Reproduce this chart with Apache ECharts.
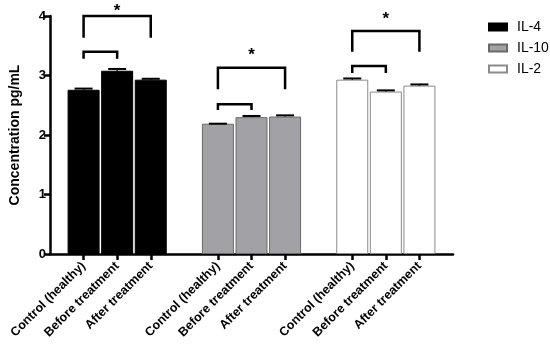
<!DOCTYPE html>
<html><head><meta charset="utf-8">
<script src="https://cdn.jsdelivr.net/npm/echarts@6/dist/echarts.min.js"></script>
<style>html,body{margin:0;padding:0;background:#fff}#c{width:550px;height:346px}</style>
</head><body><div id="c"></div>
<script>
// Category slots (blank slots separate the three cytokine groups)
const categories = ['', 'Control (healthy)', 'Before treatment', 'After treatment', '',
  'Control (healthy)', 'Before treatment', 'After treatment', '',
  'Control (healthy)', 'Before treatment', 'After treatment', ''];
const seriesNames = ['IL-4', 'IL-10', 'IL-2'];
const groupSlots = [[1, 2, 3], [5, 6, 7], [9, 10, 11]];
const il4 = [2.76, 3.08, 2.93];
const il4Err = [0.02, 0.03, 0.015];
const il10 = [2.19, 2.30, 2.31];
const il10Err = [0.0, 0.02, 0.02];
const il2 = [2.93, 2.73, 2.83];
const il2Err = [0.02, 0.02, 0.02];
const yTicks = [0, 1, 2, 3, 4];
// significance brackets: [fromSlot, toSlot, topValue, legEndValue]
const brackets = [
  [1, 3, 4.0, 3.635], [1, 2, 3.40, 3.28],
  [5, 7, 3.13, 2.77], [5, 6, 2.515, 2.42],
  [9, 11, 3.75, 3.40], [9, 10, 3.16, 3.04]
];
const stars = [[2, 4.08], [6, 3.34], [10, 3.95]];

const values = [il4, il10, il2];
const errs = [il4Err, il10Err, il2Err];
function slotData(vals, g) {
  const arr = categories.map(() => '-');
  groupSlots[g].forEach((s, i) => { arr[s] = vals[i]; });
  return arr;
}
const styles = [
  {color: '#000000', borderColor: '#000000', borderWidth: 1},
  {color: '#a2a2a6', borderColor: '#6a6a6a', borderWidth: 1},
  {color: '#ffffff', borderColor: '#8a8a8a', borderWidth: 1}
];
const errData = [];
values.forEach((vals, g) => vals.forEach((v, i) => errData.push([groupSlots[g][i], v, v + errs[g][i]])));

const font = 'Liberation Sans, Arial, sans-serif';
const chart = echarts.init(document.getElementById('c'));
const series = seriesNames.map((n, g) => ({
  name: n, type: 'bar', data: slotData(values[g], g), barWidth: 32, barGap: '-100%',
  itemStyle: styles[g], z: 2
}));
series.push({
  type: 'custom', z: 5, silent: true, data: errData,
  renderItem: function (params, api) {
    const x = api.value(0);
    const p0 = api.coord([x, api.value(1)]);
    const p1 = api.coord([x, api.value(2)]);
    return {type: 'group', children: [
      {type: 'line', shape: {x1: p0[0], y1: p0[1], x2: p1[0], y2: p1[1]}, style: {stroke: '#000', lineWidth: 1.5}},
      {type: 'line', shape: {x1: p1[0] - 9, y1: p1[1], x2: p1[0] + 9, y2: p1[1]}, style: {stroke: '#000', lineWidth: 2}}
    ]};
  }
});
series.push({
  type: 'custom', z: 5, silent: true, data: brackets,
  renderItem: function (params, api) {
    const a = api.coord([api.value(0), api.value(2)]);
    const b = api.coord([api.value(1), api.value(2)]);
    const l = api.coord([api.value(0), api.value(3)]);
    return {type: 'polyline', shape: {points: [[a[0], l[1]], [a[0], a[1]], [b[0], b[1]], [b[0], l[1]]]},
      style: {stroke: '#000', lineWidth: 2.5, fill: null}};
  }
});
series.push({
  type: 'custom', z: 5, silent: true, data: stars,
  renderItem: function (params, api) {
    const p = api.coord([api.value(0), api.value(1)]);
    return {type: 'text', x: p[0], y: p[1], style: {text: '*', fontSize: 17, fontWeight: 'bold', fontFamily: font, fill: '#000', align: 'center', verticalAlign: 'middle'}};
  }
});

chart.setOption({
  animation: false,
  grid: {left: 43, right: 97, top: 16, bottom: 92, containLabel: false},
  legend: {
    data: seriesNames.map(n => ({name: n, icon: 'rect'})), orient: 'vertical', left: 488, top: 20,
    padding: 0, itemWidth: 18, itemHeight: 7, itemGap: 7,
    textStyle: {fontSize: 14, fontFamily: font, color: '#000', padding: [0, 0, 0, 5]}
  },
  xAxis: {
    type: 'category', data: categories, boundaryGap: false,
    axisLine: {lineStyle: {color: '#000', width: 2.5}},
    axisTick: {length: 6, lineStyle: {color: '#000', width: 2.5}, interval: function (i, v) { return v !== ''; }},
    axisLabel: {rotate: 45, interval: 0, fontSize: 12.5, fontWeight: 'bold', fontFamily: font, color: '#000', margin: 10}
  },
  yAxis: {
    type: 'value', min: yTicks[0], max: yTicks[yTicks.length - 1], interval: 1,
    name: 'Concentration pg/mL', nameLocation: 'middle', nameGap: 28,
    nameTextStyle: {fontSize: 14, fontWeight: 'bold', fontFamily: font, color: '#000'},
    axisLine: {show: true, lineStyle: {color: '#000', width: 2.5}},
    axisTick: {show: true, length: 6, lineStyle: {color: '#000', width: 2.5}},
    axisLabel: {fontSize: 13, fontWeight: 'bold', fontFamily: font, color: '#000', margin: 4},
    splitLine: {show: false}
  },
  series: series
});
</script></body></html>
